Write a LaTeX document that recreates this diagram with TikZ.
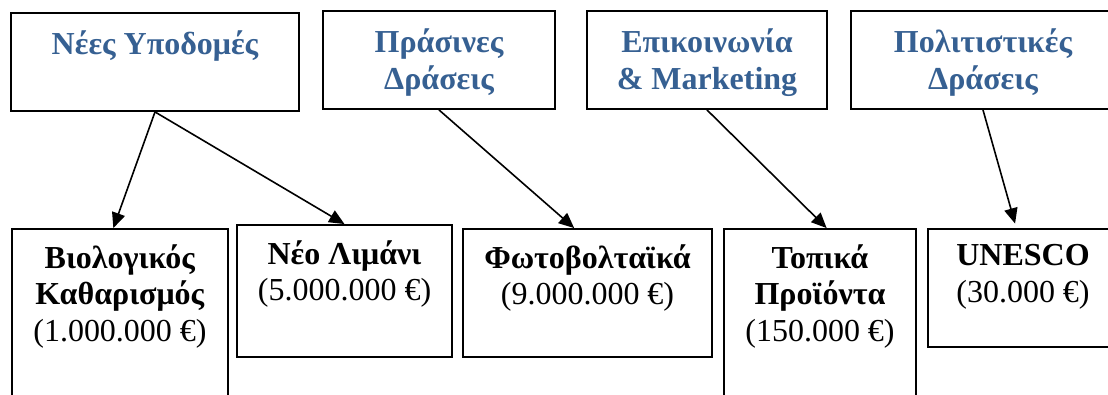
\documentclass[tikz,border=0pt]{standalone}
\usepackage{fontspec}
\setmainfont{Liberation Serif}
\usetikzlibrary{arrows.meta, positioning}
\definecolor{headblue}{RGB}{54,96,146}
\tikzstyle{box} = [draw, line width=1.4pt, inner sep=0pt]
\tikzstyle{boxtext} = [align=center, inner sep=0pt, font=\fontsize{24}{27.5}\selectfont]
\tikzstyle{headtext} = [boxtext, text=headblue, font=\fontsize{24}{28}\selectfont\bfseries]
\tikzstyle{link} = [line width=1.2pt, ->]

\begin{document}
\begin{tikzpicture}[x=0.75pt, y=-0.75pt, >={Triangle[length=11.5pt, width=10pt]}]
        \clip (0,0) rectangle (1108,394);
        % top row
        \node[box, minimum width=216pt, minimum height=73.5pt] (nees) at (155,62) {};
        \node[box, minimum width=174pt, minimum height=73.5pt] (pras) at (439,60) {};
        \node[box, minimum width=180pt, minimum height=73.5pt] (epik) at (707,60) {};
        \node[box, minimum width=198pt, minimum height=73.5pt] (polit) at (983,60) {};
        \node[headtext, below=13.5pt of nees.north] (nees-t) {Νέες Υποδομές};
        \node[headtext, below=13.5pt of pras.north] (pras-t) {Πράσινες\\Δράσεις};
        \node[headtext, below=13.5pt of epik.north] (epik-t) {Επικοινωνία\\\& Marketing};
        \node[headtext, below=13.5pt of polit.north] (polit-t) {Πολιτιστικές\\Δράσεις};

        % bottom row
        \node[box, minimum width=162pt, minimum height=142.5pt] (bio) at (120,324) {};
        \node[box, minimum width=161.25pt, minimum height=99pt] (lim) at (344.5,291) {};
        \node[box, minimum width=186.75pt, minimum height=96pt] (foto) at (587.5,293) {};
        \node[box, minimum width=144pt, minimum height=142.5pt] (topika) at (820,324) {};
        \node[box, minimum width=142.5pt, minimum height=88.5pt] (unesco) at (1023,288) {};
        \node[boxtext, below=12pt of bio.north] (bio-t) {\textbf{Βιολογικός}\\\textbf{Καθαρισμός}\\(1.000.000 €)};
        \node[boxtext, below=12pt of lim.north] (lim-t) {\textbf{Νέο Λιμάνι}\\(5.000.000 €)};
        \node[boxtext, below=12pt of foto.north] (foto-t) {\textbf{Φωτοβολταϊκά}\\(9.000.000 €)};
        \node[boxtext, below=12pt of topika.north] (topika-t) {\textbf{Τοπικά}\\\textbf{Προϊόντα}\\(150.000 €)};
        \node[boxtext, below=12pt of unesco.north] (unesco-t) {\textbf{UNESCO}\\(30.000 €)};

        \draw[link] (nees.south) -- ([xshift=-5pt]bio.north);
        \draw[link] (nees.south) -- (lim.north);
        \draw[link] (pras.south) -- ([xshift=-10pt]foto.north);
        \draw[link] (epik.south) -- ([xshift=5pt]topika.north);
        \draw[link, shorten >=3.5pt] (polit.south) -- ([xshift=-5pt]unesco.north);
    \end{tikzpicture}
\end{document}
